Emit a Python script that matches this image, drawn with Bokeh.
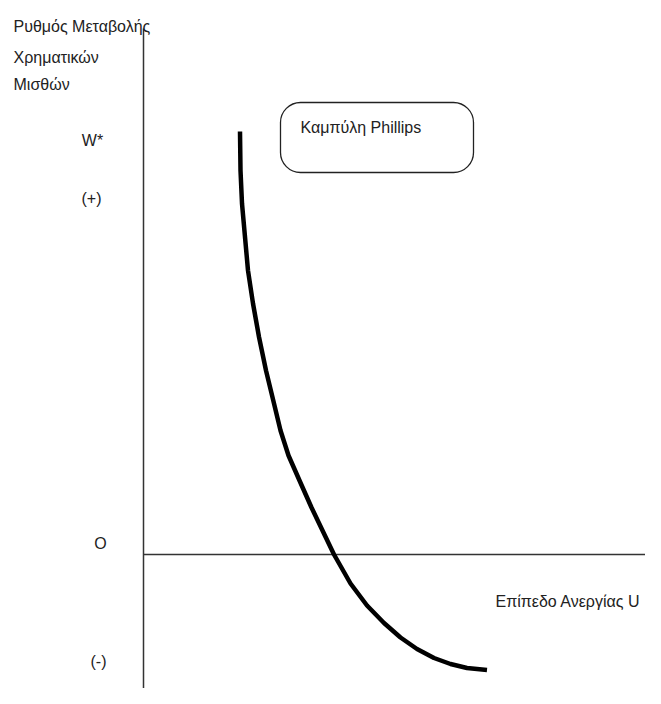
from bokeh.plotting import figure
from bokeh.models import Range1d, Label, BoxAnnotation
from bokeh.embed import file_html
from bokeh.resources import INLINE

# Phillips curve (x: unemployment level U, y: rate of change of money wages)
curve_u = [1.93, 1.94, 1.97, 2.03, 2.09, 2.19, 2.31, 2.45, 2.61, 2.74, 2.90, 3.12,
           3.36, 3.58, 3.81, 4.14, 4.47, 4.81, 5.14, 5.47, 5.81, 6.14, 6.47, 6.87]
curve_w = [8.46, 7.68, 7.02, 6.35, 5.68, 5.02, 4.35, 3.68, 3.02, 2.48, 1.98, 1.48,
           0.94, 0.48, 0.00, -0.58, -1.02, -1.37, -1.66, -1.89, -2.07, -2.19, -2.27, -2.31]

# axes extents
v_axis_u = [0.0, 0.0]
v_axis_w = [10.52, -3.0]
h_axis_u = [0.0, 10.4]
h_axis_w = [0.0, 0.0]

y_title = ["Ρυθμός Μεταβολής", "Χρηματικών", "Μισθών"]
x_title = "Επίπεδο Ανεργίας U"
curve_name = "Καμπύλη Phillips"
y_marks = ["W*", "(+)", "O", "(-)"]

FONT = "Liberation Sans"
FS = "16px"
TXT = "#222222"

p = figure(width=645, height=688, output_backend="svg", toolbar_location=None,
           x_range=Range1d(-2.86, 10.04), y_range=Range1d(-2.68, 11.08),
           min_border=0)
p.axis.visible = False
p.grid.visible = False
p.outline_line_color = None
p.background_fill_color = "white"

p.line(v_axis_u, v_axis_w, line_color="#333333", line_width=1.5)
p.line(h_axis_u, h_axis_w, line_color="#333333", line_width=1.5)
p.line(curve_u, curve_w, line_color="black", line_width=4.5, line_join="round", line_cap="butt")

# rounded box with curve name
box = BoxAnnotation(left=2.74, right=6.6, top=9.04, bottom=7.64,
                    fill_color="white", fill_alpha=1.0,
                    line_color="#222222", line_width=1.3, line_alpha=1.0, border_radius=20)
p.add_layout(box)
p.add_layout(Label(x=3.14, y=8.54, text=curve_name, text_font=FONT, text_font_size=FS,
                   text_color=TXT, text_baseline="middle", text_align="left"))

# y title (three lines)
for txt, yy in zip(y_title, [10.56, 9.94, 9.40]):
    p.add_layout(Label(x=-2.6, y=yy, text=txt, text_font=FONT, text_font_size=FS,
                       text_color=TXT, text_baseline="middle", text_align="left"))

# y marks
for txt, xx, yy in zip(y_marks, [-1.02, -1.04, -0.86, -0.9], [8.28, 7.12, 0.22, -2.14]):
    p.add_layout(Label(x=xx, y=yy, text=txt, text_font=FONT, text_font_size=FS,
                       text_color=TXT, text_baseline="middle", text_align="center"))

p.add_layout(Label(x=7.04, y=-0.94, text=x_title, text_font=FONT, text_font_size=FS,
                   text_color=TXT, text_baseline="middle", text_align="left"))

open("out.html", "w").write(file_html(p, INLINE))
